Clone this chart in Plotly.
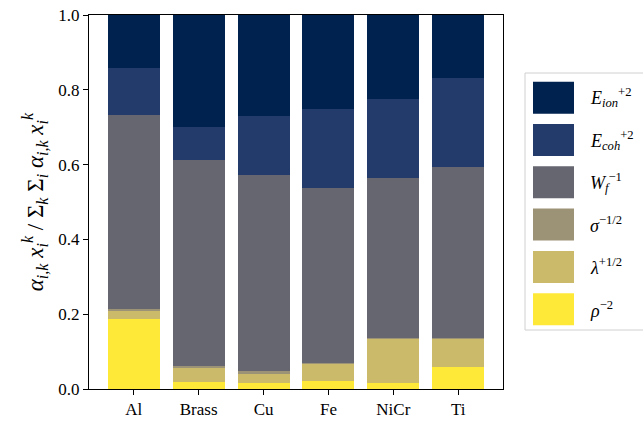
import plotly.graph_objects as go

categories = ["Al", "Brass", "Cu", "Fe", "NiCr", "Ti"]

rho = [0.186, 0.020, 0.017, 0.021, 0.017, 0.060]
lam = [0.023, 0.038, 0.024, 0.046, 0.118, 0.076]
sigma = [0.005, 0.004, 0.006, 0.003, 0.002, 0.001]
wf = [0.519, 0.550, 0.526, 0.468, 0.428, 0.457]
ecoh = [0.126, 0.089, 0.158, 0.212, 0.211, 0.238]
eion = [0.141, 0.299, 0.269, 0.250, 0.224, 0.168]

series = [
    ("<i>ρ</i><sup>−2</sup>", rho, "#FEE838"),
    ("<i>λ</i><sup>+1/2</sup>", lam, "#CBBA69"),
    ("<i>σ</i><sup>−1/2</sup>", sigma, "#9C9276"),
    ("<i>W</i><sub><i>f</i></sub><sup>−1</sup>", wf, "#65666F"),
    ("<i>E</i><sub><i>coh</i></sub><sup>+2</sup>", ecoh, "#223B6B"),
    ("<i>E</i><sub><i>ion</i></sub><sup>+2</sup>", eion, "#00224E"),
]

fig = go.Figure()
for name, vals, col in series:
    fig.add_trace(go.Bar(x=categories, y=vals, name=name, showlegend=False,
                         marker=dict(color=col, line=dict(width=0))))

W, H = 643, 423
L, R, T, B = 89, 140, 15, 34
pw, ph = W - L - R, H - T - B


def px2x(px):
    return (px - L) / pw


def py2y(py):
    return (H - B - py) / ph


font = "Liberation Serif, DejaVu Serif, serif"

# legend drawn manually (large swatches as in reference)
shapes = [dict(type="rect", xref="paper", yref="paper",
               x0=px2x(525), x1=px2x(660), y0=py2y(330), y1=py2y(73),
               line=dict(color="#d0d0d0", width=1), fillcolor="white", layer="below")]
annotations = []
for i, (name, vals, col) in enumerate(reversed(series)):
    top = 81.7 + 42.3 * i
    shapes.append(dict(type="rect", xref="paper", yref="paper",
                       x0=px2x(533), x1=px2x(574), y0=py2y(top + 32), y1=py2y(top),
                       line=dict(width=0), fillcolor=col))
    annotations.append(dict(xref="paper", yref="paper", x=px2x(588), y=py2y(top + 16),
                            xanchor="left", yanchor="middle", showarrow=False,
                            text=name, font=dict(size=18, family=font)))

fig.update_layout(
    barmode="stack",
    bargap=0.2,
    width=W, height=H,
    margin=dict(l=L, r=R, t=T, b=B, autoexpand=False),
    plot_bgcolor="white",
    paper_bgcolor="white",
    font=dict(family=font, size=17, color="black"),
    showlegend=False,
    shapes=shapes,
    annotations=annotations,
    xaxis=dict(
        range=[-0.69, 5.69],
        automargin=False,
        showline=True, linecolor="black", linewidth=1, mirror=True,
        ticks="outside", ticklen=5, tickcolor="black",
        showgrid=False,
    ),
    yaxis=dict(
        range=[0, 1.0],
        automargin=False,
        ticklabeloverflow="allow",
        tickvals=[0, 0.2, 0.4, 0.6, 0.8, 1.0],
        tickformat=".1f",
        showline=True, linecolor="black", linewidth=1, mirror=True,
        ticks="outside", ticklen=5, tickcolor="black",
        showgrid=False, zeroline=False,
        title=dict(text="<i>α</i><sub><i>i,k</i></sub> <i>x</i><sub><i>i</i></sub><sup><i>k</i></sup> / Σ<sub><i>k</i></sub> Σ<sub><i>i</i></sub> <i>α</i><sub><i>i,k</i></sub> <i>x</i><sub><i>i</i></sub><sup><i>k</i></sup>",
                   font=dict(size=23), standoff=8),
    ),
)

fig.write_html("out.html", config={"displayModeBar": False},
               post_script="document.body.style.margin='0';document.body.style.padding='0';")
